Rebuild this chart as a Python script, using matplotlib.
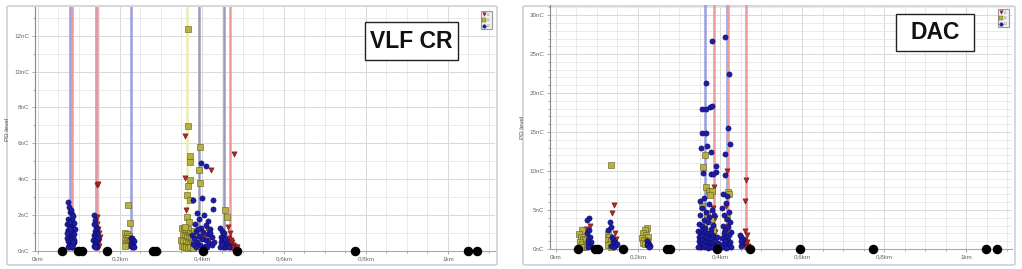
import matplotlib
matplotlib.use("Agg")
import matplotlib.pyplot as plt
from matplotlib.lines import Line2D
from matplotlib.patches import FancyBboxPatch, Rectangle
from matplotlib.ticker import MultipleLocator

plt.rcParams['font.family'] = ['Liberation Sans', 'DejaVu Sans']

# ---------------- VLF CR panel data (km, nC) ----------------
vlf_l1_km = [0.072, 0.083, 0.088, 0.075,
             0.143, 0.146, 0.143, 0.145, 0.147, 0.149, 0.144, 0.148, 0.150, 0.146, 0.149, 0.145, 0.151,
             0.359, 0.359, 0.361, 0.421, 0.412, 0.405, 0.418,
             0.478, 0.464, 0.466, 0.470, 0.473, 0.468, 0.476, 0.471, 0.479, 0.482, 0.467, 0.474, 0.485, 0.469]
vlf_l1_nc = [1.08, 0.55, 0.35, 0.30,
             3.69, 3.75, 1.92, 1.50, 1.20, 1.00, 0.90, 0.70, 0.55, 0.45, 0.30, 0.20, 0.80,
             6.39, 4.06, 2.29, 4.49, 1.20, 0.80, 0.60,
             5.40, 1.36, 0.70, 0.60, 0.50, 0.40, 0.35, 0.25, 0.30, 0.20, 0.20, 0.15, 0.25, 1.00]

vlf_l2_km = [0.220, 0.224, 0.213, 0.218, 0.222, 0.215, 0.220, 0.212, 0.217, 0.223, 0.214, 0.219, 0.216, 0.221, 0.213,
             0.367, 0.367, 0.372, 0.371, 0.372, 0.367, 0.363, 0.372, 0.364, 0.369, 0.395, 0.393, 0.395,
             0.351, 0.356, 0.361, 0.366, 0.371, 0.376, 0.381, 0.353, 0.358, 0.363, 0.368, 0.373, 0.378, 0.383,
             0.350, 0.355, 0.360, 0.365, 0.370, 0.375, 0.380, 0.352, 0.357, 0.362, 0.367, 0.372, 0.377, 0.382, 0.359,
             0.456, 0.460]
vlf_l2_nc = [2.57, 1.55, 1.00, 0.95, 0.85, 0.75, 0.70, 0.60, 0.55, 0.50, 0.45, 0.40, 0.35, 0.33, 0.30,
             12.35, 6.94, 5.27, 4.95, 3.97, 3.60, 3.13, 2.85, 1.92, 1.64, 5.77, 4.50, 3.80,
             1.30, 1.20, 1.10, 1.25, 1.00, 0.95, 1.10, 0.90, 0.85, 0.80, 0.75, 0.70, 0.65, 0.80,
             0.60, 0.55, 0.50, 0.45, 0.40, 0.35, 0.30, 0.30, 0.25, 0.20, 0.15, 0.20, 0.15, 0.40, 1.36,
             2.29, 1.90]

vlf_l3_km = [0.072, 0.075, 0.078, 0.080, 0.083, 0.086, 0.074, 0.079, 0.084, 0.088, 0.071, 0.076, 0.081, 0.085,
             0.090, 0.073, 0.077, 0.082, 0.087, 0.079, 0.075, 0.083, 0.070, 0.086, 0.078, 0.081, 0.074, 0.089,
             0.077, 0.084, 0.080, 0.076, 0.082, 0.073, 0.087, 0.079, 0.085, 0.071, 0.083, 0.078,
             0.136, 0.139, 0.142, 0.145, 0.138, 0.141, 0.144, 0.137, 0.140, 0.143, 0.146, 0.135, 0.139, 0.142,
             0.138, 0.141, 0.136, 0.144, 0.140, 0.137,
             0.226, 0.229, 0.232, 0.235, 0.227, 0.230, 0.233, 0.228, 0.231, 0.234,
             0.397, 0.411, 0.379, 0.399, 0.428, 0.387, 0.426, 0.404, 0.392, 0.416, 0.383, 0.409, 0.398, 0.420,
             0.386, 0.403, 0.414, 0.376, 0.393, 0.425, 0.381, 0.400, 0.410, 0.389, 0.418, 0.378, 0.396, 0.407,
             0.424, 0.385, 0.413, 0.402, 0.430, 0.391, 0.419,
             0.445, 0.449, 0.452, 0.447, 0.455, 0.450, 0.458, 0.446, 0.453, 0.461, 0.448, 0.456, 0.451, 0.459,
             0.463, 0.444, 0.466, 0.454, 0.449, 0.457]
vlf_l3_nc = [2.75, 2.45, 2.20, 2.30, 2.05, 1.95, 1.80, 1.70, 1.75, 1.55, 1.50, 1.45, 1.35, 1.30,
             1.20, 1.15, 1.10, 1.00, 0.95, 0.90, 0.85, 0.80, 0.75, 0.70, 0.65, 0.60, 0.55, 0.50,
             0.45, 0.40, 0.35, 0.30, 0.25, 0.20, 0.60, 1.25, 0.50, 1.00, 0.30, 1.60,
             2.00, 1.75, 1.36, 1.20, 1.10, 1.00, 0.95, 0.90, 0.80, 0.75, 0.70, 0.60, 0.55, 0.50,
             0.40, 0.35, 0.30, 0.25, 0.20, 1.50,
             0.75, 0.70, 0.60, 0.55, 0.45, 0.40, 0.35, 0.30, 0.25, 0.20,
             4.90, 4.71, 2.85, 2.94, 2.85, 2.10, 2.33, 2.00, 1.80, 1.70, 1.50, 1.45, 1.30, 1.25,
             1.10, 1.05, 0.95, 0.90, 0.85, 0.80, 0.70, 0.65, 0.60, 0.50, 0.45, 0.40, 0.35, 0.30,
             0.34, 0.25, 0.20, 0.15, 0.50, 1.20, 1.00,
             1.30, 1.10, 0.90, 0.80, 0.75, 0.60, 0.55, 0.50, 0.45, 0.40, 0.35, 0.30, 0.25, 0.20,
             0.30, 0.20, 0.25, 1.00, 0.40, 0.65]

vlf_joints_km = [0.059, 0.098, 0.107, 0.168, 0.280, 0.288, 0.402, 0.485, 0.773, 1.049, 1.071]
vlf_lines_km = [0.079, 0.082, 0.142, 0.145, 0.227, 0.363, 0.393, 0.454, 0.468]
vlf_lines_phase = ['L3', 'L1', 'L3', 'L1', 'L3', 'L2', 'G', 'G', 'L1']

# ---------------- DAC panel data (km, nC) ----------------
dac_l1_km = [0.083, 0.074, 0.079, 0.084,
             0.142, 0.136, 0.146, 0.140, 0.144,
             0.212, 0.216,
             0.385, 0.383, 0.387, 0.382, 0.388, 0.386, 0.384, 0.389, 0.417, 0.415, 0.419, 0.416, 0.418,
             0.463, 0.461, 0.462, 0.465, 0.460, 0.467, 0.464, 0.469, 0.462, 0.466]
dac_l1_nc = [2.95, 2.60, 1.40, 0.70,
             5.64, 4.60, 1.30, 0.80, 2.00,
             1.90, 1.40,
             8.00, 5.30, 4.00, 2.80, 2.20, 1.50, 0.90, 0.50, 10.00, 5.50, 3.00, 1.80, 0.80,
             8.85, 6.10, 2.30, 1.80, 1.20, 0.90, 0.60, 0.40, 0.30, 0.20]

dac_l2_km = [0.063, 0.056, 0.060, 0.066, 0.070, 0.058, 0.064, 0.072, 0.068, 0.061, 0.075,
             0.133, 0.126, 0.130, 0.128, 0.134, 0.131, 0.127, 0.135,
             0.221, 0.216, 0.212, 0.219, 0.224, 0.210, 0.215, 0.222, 0.213, 0.218,
             0.363, 0.359, 0.366, 0.372, 0.380, 0.376, 0.419, 0.421, 0.355, 0.368, 0.378, 0.360, 0.383,
             0.371, 0.387, 0.363, 0.416, 0.412]
dac_l2_nc = [2.44, 1.90, 1.50, 1.30, 1.10, 0.90, 0.70, 0.50, 0.30, 0.20, 0.40,
             10.77, 1.90, 1.60, 1.20, 1.00, 0.70, 0.50, 0.30,
             2.73, 2.40, 2.00, 1.80, 1.50, 1.40, 1.20, 1.00, 0.80, 0.60,
             12.0, 10.5, 8.0, 7.5, 7.5, 6.9, 7.3, 7.1, 5.5, 4.5, 3.8, 3.0, 2.4,
             1.6, 1.2, 0.9, 4.0, 2.0]

dac_l3_km = [0.081, 0.076, 0.076, 0.080, 0.083, 0.078, 0.085, 0.079, 0.082, 0.077,
             0.132, 0.128, 0.134, 0.136, 0.140, 0.144, 0.138, 0.146, 0.133, 0.142, 0.148,
             0.221, 0.224, 0.227, 0.223, 0.229, 0.226,
             0.380, 0.411, 0.423, 0.365, 0.357, 0.366, 0.376, 0.380, 0.355, 0.365, 0.419, 0.424, 0.353, 0.368,
             0.378, 0.411, 0.390, 0.390, 0.378, 0.384, 0.359,
             0.350, 0.362, 0.372, 0.357, 0.367, 0.380, 0.352, 0.374, 0.386, 0.360, 0.370, 0.348, 0.383, 0.356,
             0.364, 0.377,
             0.347, 0.351, 0.355, 0.359, 0.363, 0.367, 0.371, 0.375, 0.379, 0.383,
             0.349, 0.353, 0.357, 0.361, 0.365, 0.369, 0.373, 0.377, 0.381, 0.385,
             0.348, 0.352, 0.356, 0.360, 0.364, 0.368, 0.372, 0.376, 0.380, 0.384,
             0.350, 0.354, 0.358, 0.362, 0.366, 0.370, 0.374, 0.378, 0.382, 0.346,
             0.412, 0.408, 0.418, 0.414, 0.406, 0.421, 0.410, 0.416, 0.424, 0.407, 0.419, 0.413, 0.426, 0.409,
             0.422, 0.415, 0.405, 0.420, 0.411, 0.425, 0.408, 0.417, 0.423, 0.412, 0.406, 0.419, 0.427, 0.414,
             0.395, 0.398, 0.393,
             0.449, 0.452, 0.455, 0.450, 0.454, 0.451]
dac_l3_nc = [3.93, 3.70, 2.00, 2.40, 1.60, 1.20, 0.90, 0.60, 0.40, 0.25,
             3.50, 2.40, 2.80, 1.50, 1.20, 0.90, 0.70, 0.50, 0.40, 0.30, 0.60,
             1.00, 0.80, 0.60, 0.45, 0.35, 0.30,
             26.7, 27.2, 22.5, 21.3, 18.0, 18.0, 18.2, 18.3, 14.9, 14.9, 15.5, 13.5, 12.9, 13.2,
             12.5, 12.2, 10.6, 9.9, 9.6, 9.6, 9.7,
             6.2, 6.5, 5.8, 5.2, 4.8, 5.0, 4.3, 4.1, 4.4, 3.7, 3.4, 3.2, 3.1, 2.9,
             2.7, 2.6,
             2.3, 2.1, 2.4, 2.0, 2.2, 1.9, 2.1, 1.8, 2.0, 1.7,
             1.6, 1.4, 1.7, 1.3, 1.5, 1.2, 1.4, 1.1, 1.3, 1.0,
             1.0, 0.8, 1.1, 0.7, 0.9, 0.6, 0.8, 0.5, 0.7, 0.4,
             0.4, 0.3, 0.5, 0.2, 0.35, 0.15, 0.3, 0.2, 0.25, 0.2,
             9.5, 7.0, 6.8, 5.9, 5.2, 4.7, 4.3, 3.8, 3.4, 3.0, 2.8, 2.5, 2.2, 2.0,
             1.8, 1.6, 1.4, 1.2, 1.0, 0.9, 0.7, 0.6, 0.45, 0.35, 0.25, 0.2, 0.3, 0.15,
             0.8, 0.4, 1.5,
             1.8, 1.5, 1.3, 1.0, 0.7, 0.4]

dac_joints_km = [0.054, 0.095, 0.102, 0.163, 0.271, 0.278, 0.393, 0.473, 0.595, 0.773, 1.049, 1.076]
dac_lines_km = [0.363, 0.385, 0.416, 0.419, 0.463]
dac_lines_phase = ['L3', 'L1', 'L3', 'L1', 'L1']

x_ticks = [0, 0.2, 0.4, 0.6, 0.8, 1.0]
x_tick_labels = ['0km', '0,2km', '0,4km', '0,6km', '0,8km', '1km']
vlf_y_ticks = [0, 2, 4, 6, 8, 10, 12]
dac_y_ticks = [0, 5, 10, 15, 20, 25, 30]
phase_names = ['L1', 'L2', 'L3']

# ---------------- styles ----------------
pt_style = {
    'L1': dict(marker='v', facecolor='#b02828', edgecolor='#6a1010'),
    'L2': dict(marker='s', facecolor='#b8b040', edgecolor='#5e5a1c'),
    'L3': dict(marker='o', facecolor='#1c1ca8', edgecolor='#0c0c60'),
}
line_colors = {'L1': '#ee9a9a', 'L2': '#eeeab0', 'L3': '#9c9ce0', 'G': '#9c9cb8'}

fig = plt.figure(figsize=(10.22, 2.69), dpi=100)

# panel frames
for x0, x1 in [(7, 497), (523, 1015)]:
    fig.add_artist(FancyBboxPatch((x0 / 1022, 4 / 269), (x1 - x0) / 1022, 259 / 269,
                                  boxstyle='round,pad=0,rounding_size=0.004',
                                  transform=fig.transFigure, facecolor='white',
                                  edgecolor='#cfcfd8', lw=1.2, zorder=0))

ax1 = fig.add_axes([35 / 1022, 18 / 269, 460 / 1022, 244 / 269])
ax2 = fig.add_axes([550 / 1022, 20 / 269, 462 / 1022, 244 / 269])


def draw_panel(ax, data, joints, lines, lines_phase, yticks, ymax, yminor, xlim):
    ax.set_facecolor('none')
    for km, ph in zip(lines, lines_phase):
        ax.axvline(km, color=line_colors[ph], lw=1.8, zorder=1.5)
    for ph in phase_names:
        km, nc = data[ph]
        st = pt_style[ph]
        ax.scatter(km, nc, s=14, marker=st['marker'], c=st['facecolor'],
                   edgecolors=st['edgecolor'], linewidths=0.4, zorder=3, clip_on=False)
    ax.scatter(joints, [0] * len(joints), s=34, c='black', zorder=4, clip_on=False)

    ax.set_xlim(*xlim)
    ax.set_ylim(0, ymax)
    ax.set_xticks(x_ticks)
    ax.set_xticklabels(x_tick_labels)
    ax.set_yticks(yticks)
    ax.set_yticklabels([f'{v}nC' for v in yticks])
    ax.xaxis.set_minor_locator(MultipleLocator(0.05))
    ax.yaxis.set_minor_locator(MultipleLocator(yminor))
    ax.grid(which='major', color='#d8d8d8', lw=0.7, zorder=0)
    ax.grid(which='minor', color='#e6e6e6', lw=0.6, zorder=0)
    ax.set_axisbelow(True)
    for s in ['top', 'right']:
        ax.spines[s].set_visible(False)
    ax.spines['left'].set_color('#888888')
    ax.spines['bottom'].set_color('#aaaaaa')
    ax.spines['left'].set_linewidth(0.8)
    ax.spines['bottom'].set_linewidth(0.8)
    ax.tick_params(which='both', labelsize=4.5, colors='#888888', labelcolor='#666666',
                   length=2.5, width=0.5, pad=1.5)
    ax.tick_params(which='minor', length=1.5)
    ax.set_ylabel('PD level', fontsize=4.5, color='#555555', labelpad=3)

    handles = [Line2D([], [], ls='none', marker=pt_style[p]['marker'], markersize=2.5,
                      markerfacecolor=pt_style[p]['facecolor'],
                      markeredgecolor=pt_style[p]['edgecolor'], markeredgewidth=0.3)
               for p in phase_names]
    leg = ax.legend(handles, phase_names, loc='upper right', bbox_to_anchor=(0.997, 0.99),
                    fontsize=2.5, handlelength=0.8, handletextpad=0.3, borderpad=0.4,
                    labelspacing=0.5, frameon=True, fancybox=False, framealpha=1)
    leg.get_frame().set_edgecolor('#999999')
    leg.get_frame().set_linewidth(0.8)
    leg.get_frame().set_facecolor('#f0f0f0')
    for t in leg.get_texts():
        t.set_color('#888888')


draw_panel(ax1, {'L1': (vlf_l1_km, vlf_l1_nc), 'L2': (vlf_l2_km, vlf_l2_nc), 'L3': (vlf_l3_km, vlf_l3_nc)},
           vlf_joints_km, vlf_lines_km, vlf_lines_phase, vlf_y_ticks, 13.6, 1, (-0.0073, 1.115))
draw_panel(ax2, {'L1': (dac_l1_km, dac_l1_nc), 'L2': (dac_l2_km, dac_l2_nc), 'L3': (dac_l3_km, dac_l3_nc)},
           dac_joints_km, dac_lines_km, dac_lines_phase, dac_y_ticks, 31.3, 1, (-0.0146, 1.112))

# title boxes
for (bx0, by0, bx1, by1), label in [((365, 22, 458, 60), 'VLF CR'), ((896, 14, 974, 51), 'DAC')]:
    fig.add_artist(Rectangle((bx0 / 1022, (269 - by1) / 269), (bx1 - bx0) / 1022, (by1 - by0) / 269,
                             transform=fig.transFigure, facecolor='white', edgecolor='#222222',
                             lw=1.0, zorder=5))
    fig.text((bx0 + bx1) / 2 / 1022, (269 - (by0 + by1) / 2) / 269, label, fontsize=16.5,
             fontweight='bold', ha='center', va='center', color='#111111', zorder=6)

fig.savefig('out.png', dpi=100, facecolor='white')
